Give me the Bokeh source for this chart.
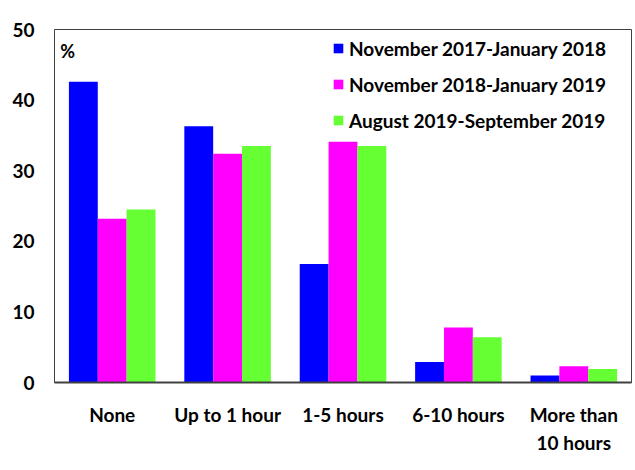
from bokeh.plotting import figure
from bokeh.models import ColumnDataSource, FactorRange, Range1d, Legend, LegendItem, Label, FixedTicker
from bokeh.transform import dodge
from bokeh.embed import file_html
from bokeh.resources import INLINE

categories = ["None", "Up to 1 hour", "1-5 hours", "6-10 hours", "More than\n10 hours"]
series_names = ["November 2017-January 2018", "November 2018-January 2019", "August 2019-September 2019"]
nov2017_jan2018 = [42.6, 36.3, 16.8, 2.9, 1.0]
nov2018_jan2019 = [23.2, 32.4, 34.1, 7.8, 2.3]
aug2019_sep2019 = [24.5, 33.5, 33.5, 6.4, 1.9]
colors = ["#0000FF", "#FF00FF", "#66FF33"]
y_ticks = [0, 10, 20, 30, 40, 50]

source = ColumnDataSource(dict(cat=categories, a=nov2017_jan2018, b=nov2018_jan2019, c=aug2019_sep2019))

FONT = "Lato"

p = figure(x_range=FactorRange(*categories), y_range=Range1d(0, 50),
           width=634, height=469, output_backend="svg", toolbar_location=None,
           min_border_left=54, min_border_right=3, min_border_top=29, min_border_bottom=87)

renderers = []
for key, off, col in zip(["a", "b", "c"], [-0.25, 0.0, 0.25], colors):
    r = p.vbar(x=dodge("cat", off, range=p.x_range), top=key, width=0.25, source=source,
               fill_color=col, line_color=None)
    renderers.append(r)

p.xgrid.visible = False
p.ygrid.visible = False
p.outline_line_color = "#404040"
p.outline_line_width = 1

p.yaxis.ticker = FixedTicker(ticks=y_ticks)
p.yaxis.axis_line_color = None
p.yaxis.major_tick_line_color = None
p.yaxis.minor_tick_line_color = None
p.yaxis.major_label_standoff = 14
p.yaxis.major_label_text_font = FONT
p.yaxis.major_label_text_font_style = "bold"
p.yaxis.major_label_text_font_size = "19px"
p.yaxis.major_label_text_color = "#000000"

p.xaxis.axis_line_color = "#404040"
p.xaxis.axis_line_width = 2
p.xaxis.major_tick_line_color = None
p.xaxis.minor_tick_line_color = None
p.xaxis.major_label_standoff = 14
p.xaxis.major_label_text_font = FONT
p.xaxis.major_label_text_font_style = "bold"
p.xaxis.major_label_text_font_size = "19px"
p.xaxis.major_label_text_color = "#000000"
p.xaxis.major_label_text_line_height = 1.25

p.add_layout(Label(x=0.05, y=46.9, text="%", text_font=FONT, text_font_style="bold",
                   text_font_size="18px", text_baseline="middle", text_color="#000000"))

legend = Legend(items=[LegendItem(label=n, renderers=[r]) for n, r in zip(series_names, renderers)],
                location=(278, 244), padding=0, margin=0, spacing=0,
                glyph_width=12, glyph_height=12, label_height=36, label_standoff=5,
                label_text_font=FONT, label_text_font_style="bold", label_text_font_size="19px",
                label_text_color="#000000", border_line_color=None, background_fill_alpha=0)
p.add_layout(legend)

open("out.html", "w").write(file_html(p, INLINE))
